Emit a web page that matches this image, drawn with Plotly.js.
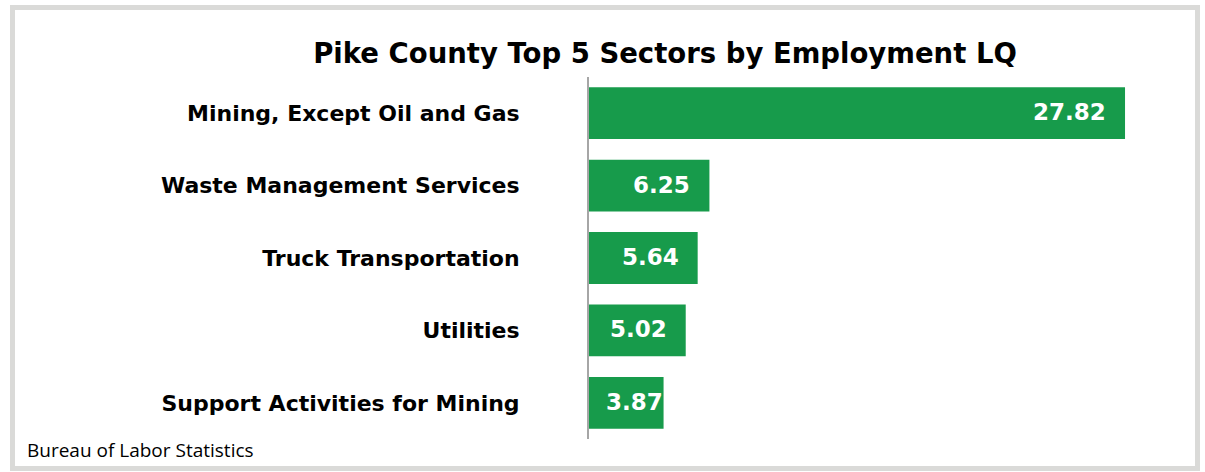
<!DOCTYPE html>
<html><head><meta charset="utf-8">
<script src="https://cdn.plot.ly/plotly-3.0.1.min.js"></script>
<style>
body{margin:0;padding:0;background:#fff;}
#wrap{position:relative;width:1205px;height:472px;}
#chart{position:absolute;left:0;top:0;width:1205px;height:472px;}
#frame{position:absolute;left:10px;top:5px;width:1180px;height:456px;border:5px solid #DADAD8;pointer-events:none;}
</style></head>
<body><div id="wrap"><div id="chart"></div><div id="frame"></div></div>
<script>
const sectors = ["Mining, Except Oil and Gas","Waste Management Services","Truck Transportation","Utilities","Support Activities for Mining"];
const lq = [27.82, 6.25, 5.64, 5.02, 3.87];
const titleText = "Pike County Top 5 Sectors by Employment LQ";
const sourceText = "Bureau of Labor Statistics";

const W = 1205, H = 472;
const mL = 589, mR = 16, mT = 77, mB = 33;
const plotW = W - mL - mR;
const xMax = 601 / 19.3;
const pxPerUnit = plotW / xMax;
const font = "'DejaVu Sans', sans-serif";

const trace = {
  type: 'bar', orientation: 'h',
  y: sectors, x: lq,
  marker: {color: '#179B4B', line: {width: 0}},
  width: 0.715,
  hoverinfo: 'none'
};

// labels sit inside the bar end; when the bar is too short, they are pushed to fit inside from the left
const labelW = 56, padEnd = 17, padStart = 17;
const annotations = lq.map((v, i) => {
  const fits = v * pxPerUnit - padEnd - labelW >= padStart;
  return {
    x: fits ? v : 0, y: sectors[i], xref: 'x', yref: 'y',
    text: '<b>' + v.toFixed(2) + '</b>',
    showarrow: false, xanchor: fits ? 'right' : 'left', yanchor: 'middle',
    xshift: fits ? -padEnd : padStart - 2, yshift: 1,
    font: {family: font, size: 23, color: '#FFFFFF'}
  };
});
annotations.push({
  xref: 'paper', yref: 'paper', x: (25 - mL) / plotW, y: 0, yshift: -11,
  xanchor: 'left', yanchor: 'middle', showarrow: false,
  text: sourceText, font: {family: "'Open Sans', sans-serif", size: 19, color: '#000'}
});

const layout = {
  width: W, height: H,
  margin: {l: mL, r: mR, t: mT, b: mB, pad: 0},
  paper_bgcolor: '#fff', plot_bgcolor: '#fff',
  showlegend: false,
  title: {text: '<b>' + titleText + '</b>', x: 665 / W, xanchor: 'center', xref: 'container',
          y: 1 - 53 / H, yanchor: 'middle', yref: 'container',
          font: {family: font, size: 27.5, color: '#000'}},
  xaxis: {range: [0, xMax], visible: false, fixedrange: true},
  yaxis: {autorange: 'reversed', showline: true, linecolor: '#A6A6A6', linewidth: 2,
          ticks: '', showgrid: false, zeroline: false, ticklabelstandoff: 63,
          tickfont: {family: font, size: 22, color: '#000', weight: 'bold'}},
  annotations: annotations
};
Plotly.newPlot('chart', [trace], layout, {displayModeBar: false, staticPlot: true});
</script></body></html>
